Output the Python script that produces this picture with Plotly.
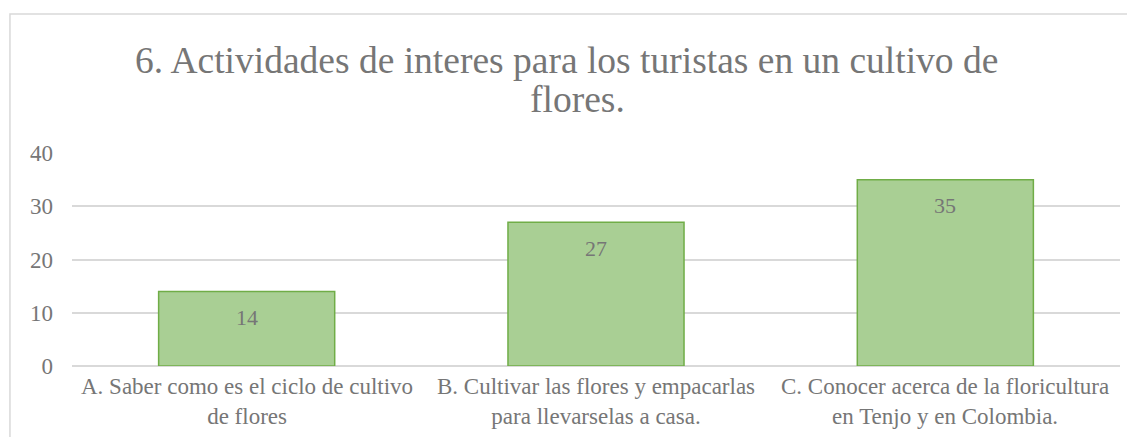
import plotly.graph_objects as go

# Chart data
cat_labels = [
    "A. Saber como es el ciclo de cultivo<br>de flores",
    "B. Cultivar las flores y empacarlas<br>para llevarselas a casa.",
    "C. Conocer acerca de la floricultura<br>en Tenjo y en Colombia.",
]
categories = ["A", "B", "C"]
values = [14, 27, 35]
y_ticks = [0, 10, 20, 30, 40]

title_line1 = "6. Actividades de interes para los turistas en un cultivo de"
title_line2 = "flores."

text_color = "#767676"
font_family = "Liberation Serif, Times New Roman, serif"

fig = go.Figure()

fig.add_trace(
    go.Bar(
        x=categories,
        y=values,
        marker=dict(color="#a9cf94", line=dict(color="#70ad47", width=1.5)),
        width=0.504,
        showlegend=False,
        hoverinfo="skip",
    )
)

# Data labels a little below the top of each bar
for cat, val in zip(categories, values):
    fig.add_annotation(
        x=cat, y=val, text=str(val), showarrow=False,
        yanchor="middle", yshift=-26,
        font=dict(size=22, color=text_color, family=font_family),
    )

# Category labels under the axis
for cat, lab in zip(categories, cat_labels):
    fig.add_annotation(
        x=cat, y=0, yref="paper", text=lab, showarrow=False,
        yanchor="middle", yshift=-35,
        font=dict(size=23, color=text_color, family=font_family),
    )

# Title, two lines (Excel wraps them tighter than plotly's line height)
fig.add_annotation(
    x=0.4723, y=1.432, xref="paper", yref="paper", text=title_line1,
    showarrow=False, xanchor="center", yanchor="middle",
    font=dict(size=37.5, color=text_color, family=font_family),
)
fig.add_annotation(
    x=0.4828, y=1.249, xref="paper", yref="paper", text=title_line2,
    showarrow=False, xanchor="center", yanchor="middle",
    font=dict(size=37.5, color=text_color, family=font_family),
)

# Outer chart border
fig.add_shape(
    type="rect", xref="paper", yref="paper",
    x0=-0.0592, x1=1.1, y0=-0.5, y1=1.653,
    line=dict(color="#d9d9d9", width=1.5),
    fillcolor="rgba(0,0,0,0)", layer="below",
)

fig.update_layout(
    width=1119,
    height=429,
    margin=dict(l=64, r=7, t=145, b=71),
    paper_bgcolor="white",
    plot_bgcolor="white",
    font=dict(family=font_family, color=text_color, size=22),
    xaxis=dict(
        showgrid=False,
        showline=False,
        showticklabels=False,
        ticks="",
    ),
    yaxis=dict(
        range=[0, 40],
        tickvals=y_ticks,
        showgrid=True,
        gridcolor="#d9d9d9",
        gridwidth=1.5,
        zeroline=True,
        zerolinecolor="#d9d9d9",
        zerolinewidth=1.5,
        showline=False,
        ticks="",
        ticklabelstandoff=18,
        tickfont=dict(size=23, color=text_color),
    ),
)

fig.write_html("out.html")
